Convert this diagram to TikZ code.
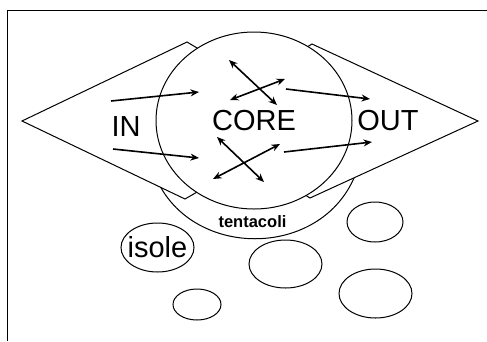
\documentclass[tikz,border=0pt]{standalone}
\usepackage{fontspec}
\setmainfont{Liberation Sans}
\usetikzlibrary{shapes.geometric,arrows.meta}

\tikzset{
    shape line/.style={draw, line width=1pt, fill=white},
    big label/.style={font=\fontsize{29}{29}\selectfont, inner sep=0pt},
    island/.style={draw, ellipse, line width=1pt, inner sep=0pt},
    flow/.style={line width=1.6pt, -{Stealth[length=8.5pt,width=7pt]}},
    swap/.style={line width=1.6pt, {Stealth[length=8.5pt,width=7pt]}-{Stealth[length=8.5pt,width=7pt]}}
}

% island: name, x, y, width, height
\newcommand{\island}[5]{
    \node[island, minimum width=#4pt, minimum height=#5pt] (#1) at (#2,#3) {};
}

\begin{document}
\begin{tikzpicture}[x=1pt,y=-1pt]
    \useasboundingbox (0,0) rectangle (487,341);

    % Frame
    \draw[line width=0.9pt] (7,341) -- (7,10) -- (487,10);

    % Tentacoli under the core
    \draw[shape line] (150,160) .. controls (175,265) and (335,265) .. (360,160) -- cycle;
    \node[font=\bfseries\fontsize{16.5}{16.5}\selectfont, inner sep=0pt] (tentacoli) at (252.5,221.5) {tentacoli};

    % IN and OUT kites
    \draw[shape line] (22,121) -- (187,42) -- (320,121) -- (185,199) -- cycle;
    \draw[shape line] (478,121) -- (312,44) -- (185,121) -- (310,198) -- cycle;

    % Core
    \node[shape line, ellipse, minimum width=196pt, minimum height=177pt, big label] (core) at (254,120.5) {CORE};
    \node[big label] (in) at (126,126.5) {IN};
    \node[big label] (out) at (388,120.5) {OUT};

    % arrows into the core
    \coordinate (in1) at (111,101);  \coordinate (in1tip) at (199,92);
    \coordinate (in2) at (113,149);  \coordinate (in2tip) at (199,158);
    \draw[flow] (in1) -- (in1tip);
    \draw[flow] (in2) -- (in2tip);

    % arrows out of the core
    \coordinate (out1) at (286,89);  \coordinate (out1tip) at (370,99);
    \coordinate (out2) at (284,152); \coordinate (out2tip) at (372,142);
    \draw[flow] (out1) -- (out1tip);
    \draw[flow] (out2) -- (out2tip);

    % exchanges inside the core
    \coordinate (x1a) at (229,60);  \coordinate (x1b) at (277,105);
    \coordinate (x2a) at (285,79);  \coordinate (x2b) at (230,100);
    \coordinate (x3a) at (217,137); \coordinate (x3b) at (264,182);
    \coordinate (x4a) at (280,144); \coordinate (x4b) at (213,179);
    \draw[swap] (x1a) -- (x1b);
    \draw[swap] (x2a) -- (x2b);
    \draw[swap] (x3a) -- (x3b);
    \draw[swap] (x4a) -- (x4b);

    % Isole
    \island{isole}{157.5}{247.5}{73}{49}
    \node[big label] (isole label) at (isole) {isole};
    \island{isola1}{375}{222}{56}{40}
    \island{isola2}{285.5}{264}{73}{48}
    \island{isola3}{375.5}{293.5}{73}{49}
    \island{isola4}{197}{304.5}{48}{31}
\end{tikzpicture}
\end{document}
